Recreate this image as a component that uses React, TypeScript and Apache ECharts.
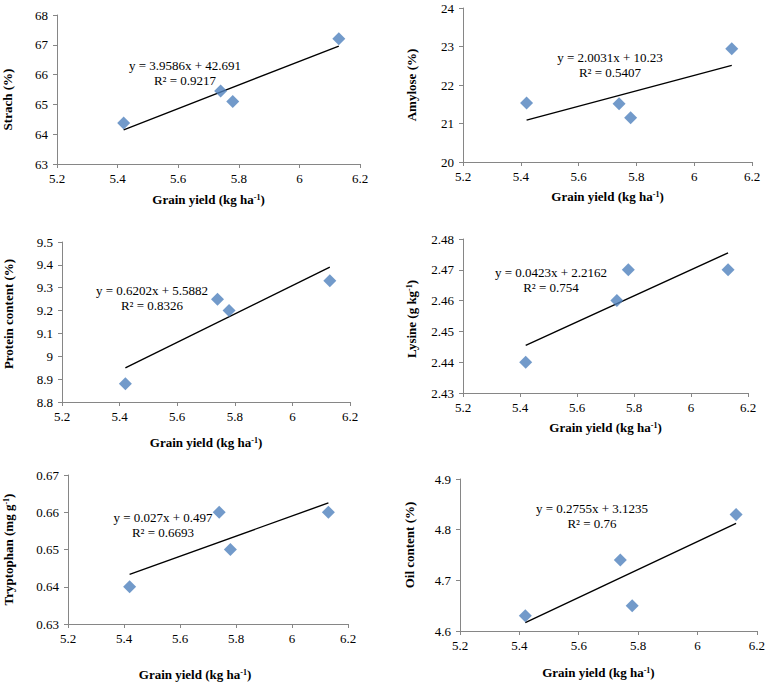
import React, { useEffect, useRef } from "react";
import * as echarts from "echarts";

// ---- data ----
const grainYield = [5.42, 5.74, 5.78, 6.13];
const starch = [64.38, 65.45, 65.1, 67.2];
const amylose = [21.53, 21.51, 21.15, 22.94];
const protein = [8.88, 9.25, 9.2, 9.33];
const lysine = [2.44, 2.46, 2.47, 2.47];
const tryptophan = [0.64, 0.66, 0.65, 0.66];
const oil = [4.63, 4.74, 4.65, 4.83];
const seriesValues = [starch, amylose, protein, lysine, tryptophan, oil];

const yTitles = [
  "Strach (%)",
  "Amylose (%)",
  "Protein content (%)",
  "Lysine (g kg{sup|-1})",
  "Tryptophan (mg g{sup|-1})",
  "Oil content (%)",
];
const xTitle = "Grain yield (kg ha{sup|-1})";

const slopes = [3.9586, 2.0031, 0.6202, 0.0423, 0.027, 0.2755];
const intercepts = [42.691, 10.23, 5.5882, 2.2162, 0.497, 3.1235];
const equations = [
  "y = 3.9586x + 42.691",
  "y = 2.0031x + 10.23",
  "y = 0.6202x + 5.5882",
  "y = 0.0423x + 2.2162",
  "y = 0.027x + 0.497",
  "y = 0.2755x + 3.1235",
];
const rSquared = ["R² = 0.9217", "R² = 0.5407", "R² = 0.8326", "R² = 0.754", "R² = 0.6693", "R² = 0.76"];

const yMin = [63, 20, 8.8, 2.43, 0.63, 4.6];
const yMax = [68, 24, 9.5, 2.48, 0.67, 4.9];
const yStep = [1, 1, 0.1, 0.01, 0.01, 0.1];
const xMin = 5.2;
const xMax = 6.2;
const xStep = 0.2;

// ---- layout (pixels) ----
const panels = [
  { left: 57, top: 15, width: 303, height: 149, xGap: 29, xPad: 0, yGap: 43, yPad: [0, 20, 0, 0], eqX: 185, eqY: 73 },
  { left: 463, top: 8, width: 289, height: 154, xGap: 28, xPad: 0, yGap: 45, yPad: [0, 0, 0, 0], eqX: 610, eqY: 64.5 },
  { left: 62, top: 242, width: 288, height: 160, xGap: 34, xPad: 0, yGap: 47, yPad: [0, 0, 0, 16], eqX: 152, eqY: 297.5 },
  { left: 463, top: 239, width: 285, height: 154, xGap: 28, xPad: 0, yGap: 45, yPad: [0, 6, 0, 0], eqX: 551, eqY: 280 },
  { left: 68, top: 475, width: 280, height: 149, xGap: 44, xPad: 26, yGap: 53, yPad: [0, 0, 0, 0], eqX: 163, eqY: 525 },
  { left: 460, top: 479, width: 300, height: 152, xGap: 35, xPad: 20, yGap: 44, yPad: [0, 0, 0, 20], eqX: 592, eqY: 515.5 },
];

const FONT = "'Liberation Serif', 'Times New Roman', serif";
const AXIS_COLOR = "#868686";
const MARK_COLOR = "#4F81BD";

const fmt = (v: number) => String(parseFloat(v.toFixed(3)));

export default function App() {
  const ref = useRef<HTMLDivElement>(null);

  useEffect(() => {
    if (!ref.current) return;
    const chart = echarts.init(ref.current, undefined, { renderer: "svg" });

    const supRich = {
      sup: { fontSize: 8, fontWeight: "bold", fontFamily: FONT, color: "#000", verticalAlign: "top", lineHeight: 13 },
    };

    const xFrom = Math.min(...grainYield);
    const xTo = Math.max(...grainYield);

    const grid = panels.map((p) => ({ left: p.left, top: p.top, width: p.width, height: p.height, containLabel: false }));

    const axisCommon = {
      axisLine: { show: true, lineStyle: { color: AXIS_COLOR, width: 1 } },
      axisTick: { show: true, length: 4, lineStyle: { color: AXIS_COLOR } },
      splitLine: { show: false },
      axisLabel: { color: "#000", fontFamily: FONT, fontSize: 13, formatter: fmt },
    };

    const xAxis = panels.map((p, i) => ({
      type: "value",
      gridIndex: i,
      min: xMin,
      max: xMax,
      interval: xStep,
      ...axisCommon,
      axisLabel: { ...axisCommon.axisLabel, margin: 8 },
      name: xTitle,
      nameLocation: "middle",
      nameGap: p.xGap,
      nameTextStyle: {
        fontFamily: FONT,
        fontSize: 13,
        fontWeight: "bold",
        color: "#000",
        lineHeight: 13,
        padding: [0, p.xPad, 0, 0],
        rich: supRich,
      },
    }));

    const yAxis = panels.map((p, i) => ({
      type: "value",
      gridIndex: i,
      min: yMin[i],
      max: yMax[i],
      interval: yStep[i],
      ...axisCommon,
      axisLabel: { ...axisCommon.axisLabel, margin: 9 },
      name: yTitles[i],
      nameLocation: "middle",
      nameRotate: 90,
      nameGap: p.yGap,
      nameTextStyle: {
        fontFamily: FONT,
        fontSize: 13,
        fontWeight: "bold",
        color: "#000",
        lineHeight: 13,
        padding: p.yPad,
        rich: supRich,
      },
    }));

    const series: any[] = [];
    seriesValues.forEach((vals, i) => {
      series.push({
        type: "line",
        xAxisIndex: i,
        yAxisIndex: i,
        data: [
          [xFrom, slopes[i] * xFrom + intercepts[i]],
          [xTo, slopes[i] * xTo + intercepts[i]],
        ],
        showSymbol: false,
        symbol: "none",
        lineStyle: { color: "#000", width: 1.4 },
        silent: true,
        z: 2,
      });
      series.push({
        type: "scatter",
        xAxisIndex: i,
        yAxisIndex: i,
        data: grainYield.map((x, k) => [x, vals[k]]),
        symbol: "diamond",
        symbolSize: 13,
        itemStyle: { color: MARK_COLOR },
        z: 3,
      });
    });

    const graphic = panels.map((p, i) => ({
      type: "text",
      x: p.eqX,
      y: p.eqY,
      style: {
        text: equations[i] + "\n" + rSquared[i],
        fontFamily: FONT,
        fontSize: 13,
        lineHeight: 15,
        fill: "#000",
        align: "center",
        verticalAlign: "middle",
      },
      z: 10,
    }));

    chart.setOption({
      animation: false,
      backgroundColor: "#fff",
      grid,
      xAxis,
      yAxis,
      series,
      graphic,
    });

    return () => chart.dispose();
  }, []);

  return (
    <div
      ref={ref}
      style={{ position: "absolute", left: 0, top: 0, width: 768, height: 683, background: "#fff" }}
    />
  );
}
